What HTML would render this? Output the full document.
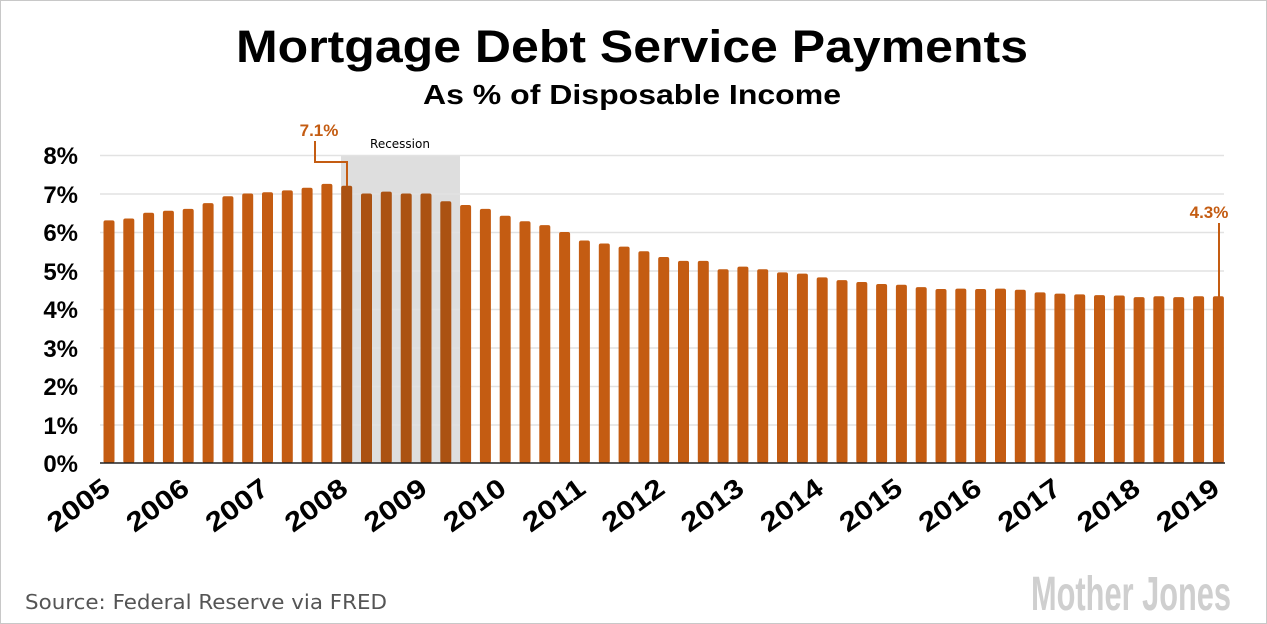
<!DOCTYPE html>
<html><head><meta charset="utf-8"><style>
html,body{margin:0;padding:0;background:#fff}
svg{display:block}
</style></head><body>
<svg width="1267" height="624" viewBox="0 0 1267 624" xmlns="http://www.w3.org/2000/svg">
<rect x="0.5" y="0.5" width="1266" height="623" fill="#fff" stroke="#c8c8c8"/>
<text x="632" y="62" text-anchor="middle" font-family="Liberation Sans, sans-serif" font-weight="bold" font-size="45" fill="#000" textLength="792" lengthAdjust="spacingAndGlyphs">Mortgage Debt Service Payments</text>
<text x="632" y="104" text-anchor="middle" font-family="Liberation Sans, sans-serif" font-weight="bold" font-size="28" fill="#000" textLength="418" lengthAdjust="spacingAndGlyphs">As % of Disposable Income</text>
<rect x="341" y="155" width="119" height="308" fill="#dedede"/>
<text x="400" y="148" text-anchor="middle" font-family="DejaVu Sans, sans-serif" font-size="12" fill="#000">Recession</text>
<g stroke="#e2e2e2" stroke-width="1.5">
<line x1="100" x2="1224" y1="155.5" y2="155.5"/>
<line x1="100" x2="1224" y1="194" y2="194"/>
<line x1="100" x2="1224" y1="232.5" y2="232.5"/>
<line x1="100" x2="1224" y1="271" y2="271"/>
<line x1="100" x2="1224" y1="309.5" y2="309.5"/>
<line x1="100" x2="1224" y1="348" y2="348"/>
<line x1="100" x2="1224" y1="386.5" y2="386.5"/>
<line x1="100" x2="1224" y1="425" y2="425"/>
</g>
<g font-family="Liberation Sans, sans-serif" font-weight="bold" font-size="24" fill="#000" text-anchor="end">
<text x="78" y="164">8%</text>
<text x="78" y="203">7%</text>
<text x="78" y="241">6%</text>
<text x="78" y="280">5%</text>
<text x="78" y="318">4%</text>
<text x="78" y="357">3%</text>
<text x="78" y="395">2%</text>
<text x="78" y="434">1%</text>
<text x="78" y="472">0%</text>
</g>
<g fill="#c45c12">
<rect x="103.5" y="220.4" width="11" height="242.6" rx="2"/>
<rect x="123.3" y="218.5" width="11" height="244.5" rx="2"/>
<rect x="143.1" y="212.7" width="11" height="250.3" rx="2"/>
<rect x="162.9" y="210.8" width="11" height="252.2" rx="2"/>
<rect x="182.7" y="208.9" width="11" height="254.1" rx="2"/>
<rect x="202.6" y="203.1" width="11" height="259.9" rx="2"/>
<rect x="222.4" y="196.2" width="11" height="266.8" rx="2"/>
<rect x="242.2" y="193.5" width="11" height="269.5" rx="2"/>
<rect x="262.0" y="192.3" width="11" height="270.7" rx="2"/>
<rect x="281.8" y="190.4" width="11" height="272.6" rx="2"/>
<rect x="301.6" y="187.7" width="11" height="275.3" rx="2"/>
<rect x="321.4" y="183.9" width="11" height="279.1" rx="2"/>
<rect x="460.1" y="205.0" width="11" height="258.0" rx="2"/>
<rect x="479.9" y="208.9" width="11" height="254.1" rx="2"/>
<rect x="499.7" y="215.8" width="11" height="247.2" rx="2"/>
<rect x="519.5" y="221.2" width="11" height="241.8" rx="2"/>
<rect x="539.3" y="225.1" width="11" height="237.9" rx="2"/>
<rect x="559.1" y="232.0" width="11" height="231.0" rx="2"/>
<rect x="578.9" y="240.5" width="11" height="222.5" rx="2"/>
<rect x="598.8" y="243.5" width="11" height="219.5" rx="2"/>
<rect x="618.6" y="246.6" width="11" height="216.4" rx="2"/>
<rect x="638.4" y="251.2" width="11" height="211.8" rx="2"/>
<rect x="658.2" y="257.0" width="11" height="206.0" rx="2"/>
<rect x="678.0" y="260.9" width="11" height="202.1" rx="2"/>
<rect x="697.8" y="260.9" width="11" height="202.1" rx="2"/>
<rect x="717.6" y="269.3" width="11" height="193.7" rx="2"/>
<rect x="737.4" y="266.6" width="11" height="196.4" rx="2"/>
<rect x="757.2" y="269.3" width="11" height="193.7" rx="2"/>
<rect x="777.0" y="272.4" width="11" height="190.6" rx="2"/>
<rect x="796.9" y="273.6" width="11" height="189.4" rx="2"/>
<rect x="816.7" y="277.4" width="11" height="185.6" rx="2"/>
<rect x="836.5" y="280.1" width="11" height="182.9" rx="2"/>
<rect x="856.3" y="282.0" width="11" height="181.0" rx="2"/>
<rect x="876.1" y="284.0" width="11" height="179.0" rx="2"/>
<rect x="895.9" y="284.7" width="11" height="178.3" rx="2"/>
<rect x="915.7" y="287.1" width="11" height="175.9" rx="2"/>
<rect x="935.5" y="289.0" width="11" height="174.0" rx="2"/>
<rect x="955.3" y="288.6" width="11" height="174.4" rx="2"/>
<rect x="975.1" y="289.0" width="11" height="174.0" rx="2"/>
<rect x="995.0" y="288.6" width="11" height="174.4" rx="2"/>
<rect x="1014.8" y="289.7" width="11" height="173.3" rx="2"/>
<rect x="1034.6" y="292.4" width="11" height="170.6" rx="2"/>
<rect x="1054.4" y="293.6" width="11" height="169.4" rx="2"/>
<rect x="1074.2" y="294.4" width="11" height="168.6" rx="2"/>
<rect x="1094.0" y="295.1" width="11" height="167.9" rx="2"/>
<rect x="1113.8" y="295.5" width="11" height="167.5" rx="2"/>
<rect x="1133.6" y="297.1" width="11" height="165.9" rx="2"/>
<rect x="1153.4" y="296.3" width="11" height="166.7" rx="2"/>
<rect x="1173.2" y="297.1" width="11" height="165.9" rx="2"/>
<rect x="1193.1" y="296.3" width="11" height="166.7" rx="2"/>
<rect x="1212.9" y="296.3" width="11" height="166.7" rx="2"/>
</g>
<g fill="#ab5212">
<rect x="341.2" y="185.8" width="11" height="277.2" rx="2"/>
<rect x="361.0" y="193.5" width="11" height="269.5" rx="2"/>
<rect x="380.8" y="191.6" width="11" height="271.4" rx="2"/>
<rect x="400.7" y="193.5" width="11" height="269.5" rx="2"/>
<rect x="420.5" y="193.5" width="11" height="269.5" rx="2"/>
<rect x="440.3" y="201.2" width="11" height="261.8" rx="2"/>
</g>
<line x1="100" x2="1225" y1="463" y2="463" stroke="#222" stroke-width="1.5"/>
<g font-family="Liberation Sans, sans-serif" font-weight="bold" font-size="27" fill="#000" text-anchor="end">
<text transform="translate(112,492) rotate(-36)" textLength="70" lengthAdjust="spacingAndGlyphs">2005</text>
<text transform="translate(191.2,492) rotate(-36)" textLength="70" lengthAdjust="spacingAndGlyphs">2006</text>
<text transform="translate(270.5,492) rotate(-36)" textLength="70" lengthAdjust="spacingAndGlyphs">2007</text>
<text transform="translate(349.7,492) rotate(-36)" textLength="70" lengthAdjust="spacingAndGlyphs">2008</text>
<text transform="translate(429,492) rotate(-36)" textLength="70" lengthAdjust="spacingAndGlyphs">2009</text>
<text transform="translate(508.2,492) rotate(-36)" textLength="70" lengthAdjust="spacingAndGlyphs">2010</text>
<text transform="translate(587.4,492) rotate(-36)" textLength="70" lengthAdjust="spacingAndGlyphs">2011</text>
<text transform="translate(666.7,492) rotate(-36)" textLength="70" lengthAdjust="spacingAndGlyphs">2012</text>
<text transform="translate(745.9,492) rotate(-36)" textLength="70" lengthAdjust="spacingAndGlyphs">2013</text>
<text transform="translate(825.2,492) rotate(-36)" textLength="70" lengthAdjust="spacingAndGlyphs">2014</text>
<text transform="translate(904.4,492) rotate(-36)" textLength="70" lengthAdjust="spacingAndGlyphs">2015</text>
<text transform="translate(983.6,492) rotate(-36)" textLength="70" lengthAdjust="spacingAndGlyphs">2016</text>
<text transform="translate(1062.9,492) rotate(-36)" textLength="70" lengthAdjust="spacingAndGlyphs">2017</text>
<text transform="translate(1142.1,492) rotate(-36)" textLength="70" lengthAdjust="spacingAndGlyphs">2018</text>
<text transform="translate(1221.4,492) rotate(-36)" textLength="70" lengthAdjust="spacingAndGlyphs">2019</text>
</g>
<polyline points="315,141 315,162 347,162 347,186" fill="none" stroke="#c45c12" stroke-width="2"/>
<text x="319" y="136" text-anchor="middle" font-family="Liberation Sans, sans-serif" font-weight="bold" font-size="17" fill="#c45c12">7.1%</text>
<line x1="1219" x2="1219" y1="223" y2="297" stroke="#c45c12" stroke-width="2"/>
<text x="1209" y="218" text-anchor="middle" font-family="Liberation Sans, sans-serif" font-weight="bold" font-size="17" fill="#c45c12">4.3%</text>
<text x="25" y="609" font-family="DejaVu Sans, sans-serif" font-size="20" fill="#555" textLength="362" lengthAdjust="spacingAndGlyphs">Source: Federal Reserve via FRED</text>
<text x="1031" y="610" font-family="Liberation Sans Narrow, Liberation Sans, sans-serif" font-weight="bold" font-size="48" fill="#cfcfcf" textLength="200" lengthAdjust="spacingAndGlyphs">Mother Jones</text>
</svg>
</body></html>
